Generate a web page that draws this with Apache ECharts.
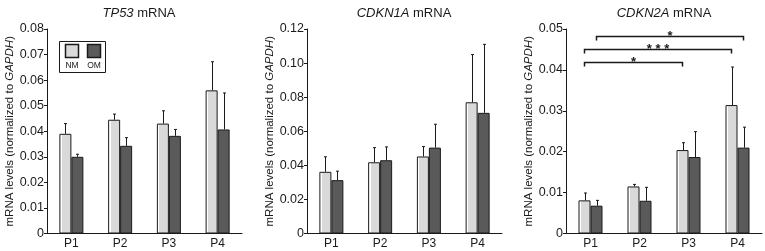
<!DOCTYPE html>
<html>
<head>
<meta charset="utf-8">
<script src="https://cdn.jsdelivr.net/npm/echarts@6/dist/echarts.min.js"></script>
<style>
  html, body { margin: 0; padding: 0; background: #fff; }
  #chart { width: 765px; height: 251px; }
</style>
</head>
<body>
<div id="chart"></div>
<script>
// ── data ────────────────────────────────────────────────────
const categories = ['P1', 'P2', 'P3', 'P4'];

const tp53NM = [0.039, 0.0445, 0.043, 0.056];
const tp53NMsd = [0.004, 0.0022, 0.005, 0.0112];
const tp53OM = [0.030, 0.0343, 0.0382, 0.0407];
const tp53OMsd = [0.001, 0.0032, 0.0025, 0.0143];

const cdkn1aNM = [0.0362, 0.0418, 0.0452, 0.077];
const cdkn1aNMsd = [0.0088, 0.0086, 0.0058, 0.028];
const cdkn1aOM = [0.0313, 0.043, 0.0504, 0.0708];
const cdkn1aOMsd = [0.0053, 0.0078, 0.0137, 0.0402];

const cdkn2aNM = [0.0081, 0.0115, 0.0204, 0.0314];
const cdkn2aNMsd = [0.0018, 0.0005, 0.0018, 0.0093];
const cdkn2aOM = [0.0068, 0.0080, 0.0187, 0.021];
const cdkn2aOMsd = [0.0013, 0.0033, 0.0062, 0.005];

// significance brackets (CDKN2A panel)
const sigFrom = [0, 0, 0];
const sigTo = [2, 3, 3];
const sigGroup = ['NM', 'NM', 'OM'];
const sigY = [0.042, 0.0452, 0.0484];
const sigLabel = ['*', '***', '*'];

const panelGenes = ['TP53', 'CDKN1A', 'CDKN2A'];
const panelMax = [0.08, 0.12, 0.05];
const panelStep = [0.01, 0.02, 0.01];

// ── styling ─────────────────────────────────────────────────
const FONT = 'Liberation Sans, Arial, Helvetica, sans-serif';
const INK = '#1a1a1a';
const BAR_W = 12;
const NM_FILL = {
  type: 'linear', x: 0, y: 0, x2: 1, y2: 0,
  colorStops: [
    { offset: 0, color: '#ffffff' }, { offset: 0.2, color: '#ffffff' },
    { offset: 0.2, color: '#d9d9d9' }, { offset: 1, color: '#d9d9d9' }
  ]
};
const OM_FILL = '#5a5a5a';

const grids = [
  { left: 47, top: 29, width: 195, height: 204.5 },
  { left: 307, top: 29, width: 195, height: 204.5 },
  { left: 566, top: 29, width: 196, height: 204.5 }
];
const titleX = [134, 399, 659];
const nameGaps = [30, 30, 30];

const panels = [
  { nm: tp53NM, nmSd: tp53NMsd, om: tp53OM, omSd: tp53OMsd },
  { nm: cdkn1aNM, nmSd: cdkn1aNMsd, om: cdkn1aOM, omSd: cdkn1aOMsd },
  { nm: cdkn2aNM, nmSd: cdkn2aNMsd, om: cdkn2aOM, omSd: cdkn2aOMsd }
];

function errRender(off) {
  return function (params, api) {
    const base = api.coord([api.value(0), api.value(1)]);
    const top = api.coord([api.value(0), api.value(1) + api.value(2)]);
    const x = Math.round(base[0] + off) + 0.5;
    const st = { stroke: INK, lineWidth: 1 };
    return {
      type: 'group',
      children: [
        { type: 'line', shape: { x1: x, y1: base[1], x2: x, y2: top[1] }, style: st },
        { type: 'line', shape: { x1: x - 1.5, y1: top[1], x2: x + 1.5, y2: top[1] }, style: st }
      ]
    };
  };
}

function bracketRender(params, api) {
  const i = params.dataIndex;
  const off = sigGroup[i] === 'NM' ? -BAR_W / 2 : BAR_W / 2;
  const a = api.coord([api.value(0), api.value(2)]);
  const b = api.coord([api.value(1), api.value(2)]);
  const x1 = a[0] + off, x2 = b[0] + off, y = Math.round(a[1]) + 0.5;
  const st = { stroke: INK, lineWidth: 1.5, fill: null };
  return {
    type: 'group',
    children: [
      { type: 'polyline', shape: { points: [[x1, y + 4], [x1, y], [x2, y], [x2, y + 4]] }, style: st },
      {
        type: 'text',
        style: {
          text: sigLabel[i].split('').join(' '), x: (x1 + x2) / 2, y: y,
          align: 'center', verticalAlign: 'middle',
          font: 'bold 13px ' + FONT, fill: INK
        }
      }
    ]
  };
}

const option = {
  backgroundColor: '#fff',
  animation: false,
  textStyle: { fontFamily: FONT, color: INK },
  title: panelGenes.map((g, i) => ({
    text: '{i|' + g + '} mRNA',
    left: titleX[i], top: 2, textAlign: 'center',
    textStyle: {
      fontFamily: FONT, fontSize: 13, fontWeight: 'normal', color: INK,
      rich: { i: { fontFamily: FONT, fontSize: 13, fontStyle: 'italic', color: INK } }
    }
  })),
  grid: grids,
  xAxis: grids.map((g, i) => ({
    type: 'category', gridIndex: i, data: categories,
    axisLine: { lineStyle: { color: INK, width: 1 } },
    axisTick: { show: false },
    axisLabel: { color: INK, fontFamily: FONT, fontSize: 12, margin: 4 }
  })),
  yAxis: grids.map((g, i) => ({
    type: 'value', gridIndex: i, min: 0, max: panelMax[i], interval: panelStep[i],
    splitLine: { show: false },
    axisLine: { show: true, lineStyle: { color: INK, width: 1 } },
    axisTick: { show: true, inside: false, length: 3, lineStyle: { color: INK } },
    axisLabel: {
      color: INK, fontFamily: FONT, fontSize: 12.5, margin: 3,
      formatter: v => (v === 0 ? '0' : v.toFixed(2))
    },
    name: '{a|mRNA levels (normalized to }{i|GAPDH}{a|)}',
    nameLocation: 'middle', nameGap: nameGaps[i],
    nameTextStyle: {
      fontFamily: FONT, fontSize: 11.5, color: INK,
      rich: {
        a: { fontFamily: FONT, fontSize: 11.5, color: INK },
        i: { fontFamily: FONT, fontSize: 11.5, color: INK, fontStyle: 'italic' }
      }
    }
  })),
  series: []
};

panels.forEach((p, i) => {
  option.series.push(
    {
      name: 'NM', type: 'bar', xAxisIndex: i, yAxisIndex: i, data: p.nm,
      barWidth: BAR_W, barGap: '0%',
      itemStyle: { color: NM_FILL, borderColor: INK, borderWidth: 1 }
    },
    {
      name: 'OM', type: 'bar', xAxisIndex: i, yAxisIndex: i, data: p.om,
      barWidth: BAR_W, barGap: '0%',
      itemStyle: { color: OM_FILL, borderColor: INK, borderWidth: 1 }
    },
    {
      type: 'custom', xAxisIndex: i, yAxisIndex: i, z: 5, silent: true,
      renderItem: errRender(-BAR_W / 2),
      encode: { x: 0, y: 1 },
      data: p.nm.map((v, k) => [k, v, p.nmSd[k]])
    },
    {
      type: 'custom', xAxisIndex: i, yAxisIndex: i, z: 5, silent: true,
      renderItem: errRender(BAR_W / 2),
      encode: { x: 0, y: 1 },
      data: p.om.map((v, k) => [k, v, p.omSd[k]])
    }
  );
});

option.series.push({
  type: 'custom', xAxisIndex: 2, yAxisIndex: 2, z: 6, silent: true,
  renderItem: bracketRender,
  encode: { x: 0, y: 2 },
  data: sigFrom.map((f, k) => [f, sigTo[k], sigY[k]])
});

// legend box in the TP53 panel
option.graphic = [
  { type: 'rect', shape: { x: 59.5, y: 41.5, width: 46, height: 31 }, style: { fill: '#fff', stroke: INK, lineWidth: 1 }, z: 10 },
  { type: 'rect', shape: { x: 65.5, y: 44.5, width: 13, height: 13 }, style: { fill: '#d9d9d9', stroke: INK, lineWidth: 1.5 }, z: 11 },
  { type: 'rect', shape: { x: 87.5, y: 44.5, width: 13, height: 13 }, style: { fill: OM_FILL, stroke: INK, lineWidth: 1.5 }, z: 11 },
  { type: 'text', style: { text: 'NM', x: 72, y: 65.5, align: 'center', verticalAlign: 'middle', font: '8.5px ' + FONT, fill: INK }, z: 11 },
  { type: 'text', style: { text: 'OM', x: 94, y: 65.5, align: 'center', verticalAlign: 'middle', font: '8.5px ' + FONT, fill: INK }, z: 11 }
];

const chart = echarts.init(document.getElementById('chart'), null, { renderer: 'canvas' });
chart.setOption(option);
</script>
</body>
</html>
